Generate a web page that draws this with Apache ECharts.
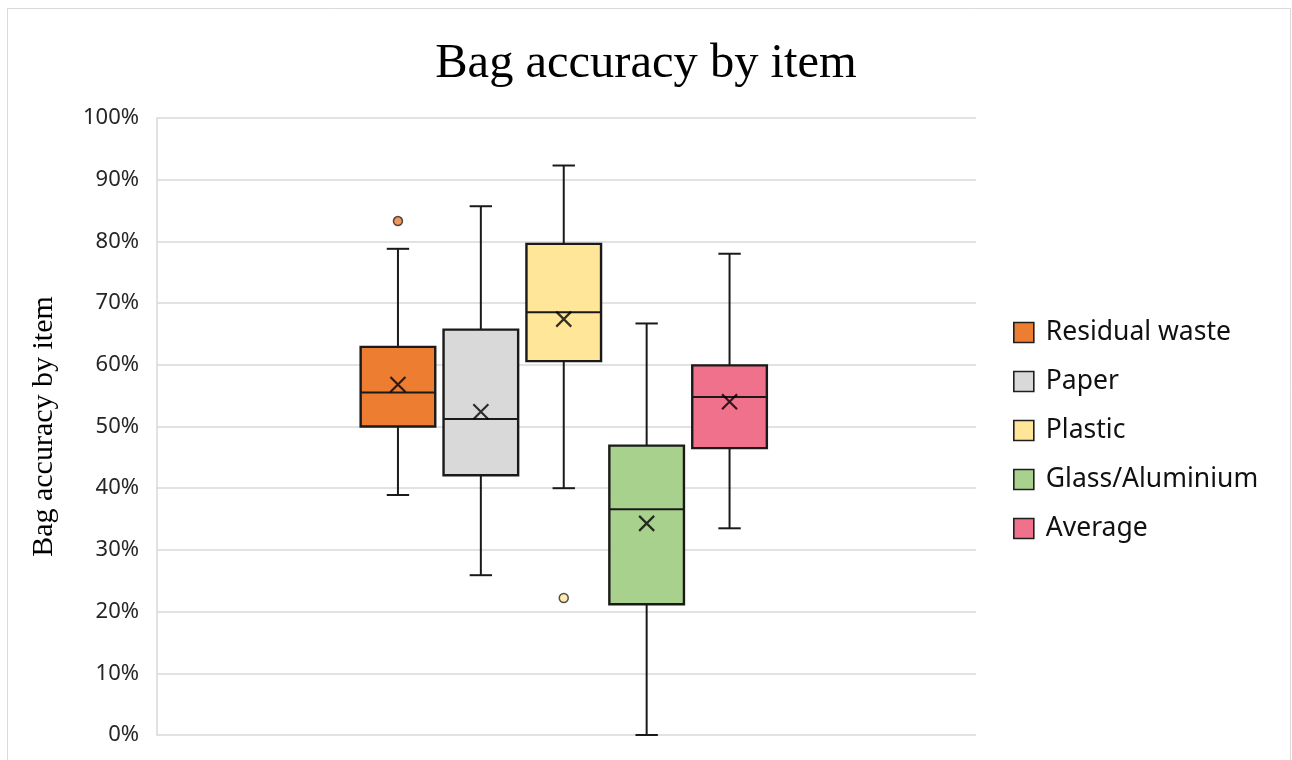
<!DOCTYPE html>
<html>
<head>
<meta charset="utf-8">
<title>Bag accuracy by item</title>
<script src="https://cdn.jsdelivr.net/npm/echarts@6/dist/echarts.min.js"></script>
<style>
  html, body { margin: 0; padding: 0; background: #ffffff; }
  #chart { width: 1292px; height: 760px; }
</style>
</head>
<body>
<div id="chart"></div>
<script>
// Items shown as box-and-whisker plots (values in percent)
const categories = ['Residual waste', 'Paper', 'Plastic', 'Glass/Aluminium', 'Average'];
const minValues    = [38.9, 25.9, 40.0,  0.0, 33.5];
const q1Values     = [50.0, 42.1, 60.6, 21.2, 46.5];
const medianValues = [55.5, 51.2, 68.5, 36.6, 54.8];
const q3Values     = [62.9, 65.7, 79.6, 46.9, 59.9];
const maxValues    = [78.8, 85.7, 92.3, 66.7, 78.0];
const meanValues   = [56.8, 52.4, 67.4, 34.3, 54.0];

// Points beyond the whiskers: item index and value
const outlierItems  = [0, 2];
const outlierValues = [83.3, 22.2];

// Value axis ticks
const yTicks = [0, 10, 20, 30, 40, 50, 60, 70, 80, 90, 100];

const colors = ['#ED7D31', '#D9D9D9', '#FFE699', '#A9D18E', '#F0718C'];
const edgeColor = '#1a1a1a';

const chart = echarts.init(document.getElementById('chart'), null, { renderer: 'canvas' });

// Box, median and whiskers drawn from the axis scales
function renderBox(params, api) {
  const x = api.value(0);
  const pMin = api.coord([x, api.value(1)]);
  const pQ1 = api.coord([x, api.value(2)]);
  const pMed = api.coord([x, api.value(3)]);
  const pQ3 = api.coord([x, api.value(4)]);
  const pMax = api.coord([x, api.value(5)]);
  const band = api.size([1, 0])[0];
  const boxW = band * 0.9;
  const capW = band * 0.27;
  const cx = pMed[0];
  const line = { stroke: edgeColor, lineWidth: 2 };
  return {
    type: 'group',
    children: [
      { type: 'line', shape: { x1: cx, y1: pMax[1], x2: cx, y2: pQ3[1] }, style: line },
      { type: 'line', shape: { x1: cx, y1: pQ1[1], x2: cx, y2: pMin[1] }, style: line },
      { type: 'line', shape: { x1: cx - capW / 2, y1: pMax[1], x2: cx + capW / 2, y2: pMax[1] }, style: line },
      { type: 'line', shape: { x1: cx - capW / 2, y1: pMin[1], x2: cx + capW / 2, y2: pMin[1] }, style: line },
      {
        type: 'rect',
        shape: { x: cx - boxW / 2, y: pQ3[1], width: boxW, height: pQ1[1] - pQ3[1] },
        style: { fill: api.visual('color'), stroke: edgeColor, lineWidth: 2.4 }
      },
      { type: 'line', shape: { x1: cx - boxW / 2, y1: pMed[1], x2: cx + boxW / 2, y2: pMed[1] }, style: line }
    ]
  };
}

const boxSeries = categories.map(function (name, i) {
  return {
    name: name,
    type: 'custom',
    xAxisIndex: 1,
    yAxisIndex: 1,
    renderItem: renderBox,
    itemStyle: { color: colors[i] },
    encode: { x: 0, y: [1, 2, 3, 4, 5] },
    data: [[i, minValues[i], q1Values[i], medianValues[i], q3Values[i], maxValues[i]]],
    z: 2
  };
});

const meanSeries = {
  name: 'Mean',
  type: 'scatter',
  xAxisIndex: 1,
  yAxisIndex: 1,
  symbol: 'path://M0,0L10,10M10,0L0,10',
  symbolSize: 15,
  itemStyle: { color: 'rgba(0,0,0,0)', borderColor: '#000000', borderWidth: 2.2 },
  data: meanValues.map(function (v, i) { return [i, v]; }),
  z: 5
};

const outlierSeries = {
  name: 'Outliers',
  type: 'scatter',
  xAxisIndex: 1,
  yAxisIndex: 1,
  symbol: 'circle',
  symbolSize: 9,
  data: outlierItems.map(function (idx, k) {
    return {
      value: [idx, outlierValues[k]],
      itemStyle: { color: colors[idx], borderColor: '#262626', borderWidth: 1.5 }
    };
  }),
  z: 5
};

const option = {
  animation: false,
  backgroundColor: '#ffffff',
  title: {
    text: 'Bag accuracy by item',
    left: 'center',
    top: 35,
    textStyle: {
      fontFamily: '"Liberation Serif", "DejaVu Serif", serif',
      fontSize: 48.5,
      fontWeight: 'normal',
      color: '#000000'
    }
  },
  legend: {
    orient: 'vertical',
    left: 1013,
    top: 319,
    padding: 0,
    itemWidth: 20,
    itemHeight: 20,
    itemGap: 22,
    icon: 'rect',
    data: categories,
    itemStyle: { borderColor: '#1f1f1f', borderWidth: 1.6 },
    textStyle: {
      fontFamily: '"Noto Sans", "Open Sans", sans-serif',
      fontSize: 26.5,
      color: '#111111',
      padding: [0, 0, 0, 7]
    }
  },
  graphic: [{
    type: 'rect',
    shape: { x: 7.5, y: 8.5, width: 1283, height: 800 },
    style: { fill: 'none', stroke: '#d9d9d9', lineWidth: 1 },
    silent: true,
    z: -1
  }],
  grid: [
    { left: 157, right: 316, top: 118, bottom: 25 },
    { left: 356.5, width: 414.5, top: 118, bottom: 25 }
  ],
  xAxis: [
    { type: 'category', gridIndex: 0, data: [''], show: false },
    { type: 'category', gridIndex: 1, data: categories, show: false }
  ],
  yAxis: [
    {
      type: 'value',
      gridIndex: 0,
      min: yTicks[0],
      max: yTicks[yTicks.length - 1],
      interval: yTicks[1] - yTicks[0],
      name: 'Bag accuracy by item',
      nameLocation: 'middle',
      nameGap: 98,
      nameTextStyle: {
        fontFamily: '"Liberation Serif", "DejaVu Serif", serif',
        fontSize: 30,
        color: '#000000'
      },
      axisLine: { show: true, lineStyle: { color: '#d9d9d9', width: 1.5 } },
      axisTick: { show: false },
      axisLabel: {
        formatter: '{value}%',
        margin: 18,
        fontFamily: '"Noto Sans", "Open Sans", sans-serif',
        fontSize: 22,
        color: '#262626'
      },
      splitLine: { show: true, lineStyle: { color: '#d9d9d9', width: 1.5 } }
    },
    {
      type: 'value',
      gridIndex: 1,
      min: yTicks[0],
      max: yTicks[yTicks.length - 1],
      interval: yTicks[1] - yTicks[0],
      show: false,
      splitLine: { show: false }
    }
  ],
  series: boxSeries.concat([meanSeries, outlierSeries])
};

chart.setOption(option);
</script>
</body>
</html>
